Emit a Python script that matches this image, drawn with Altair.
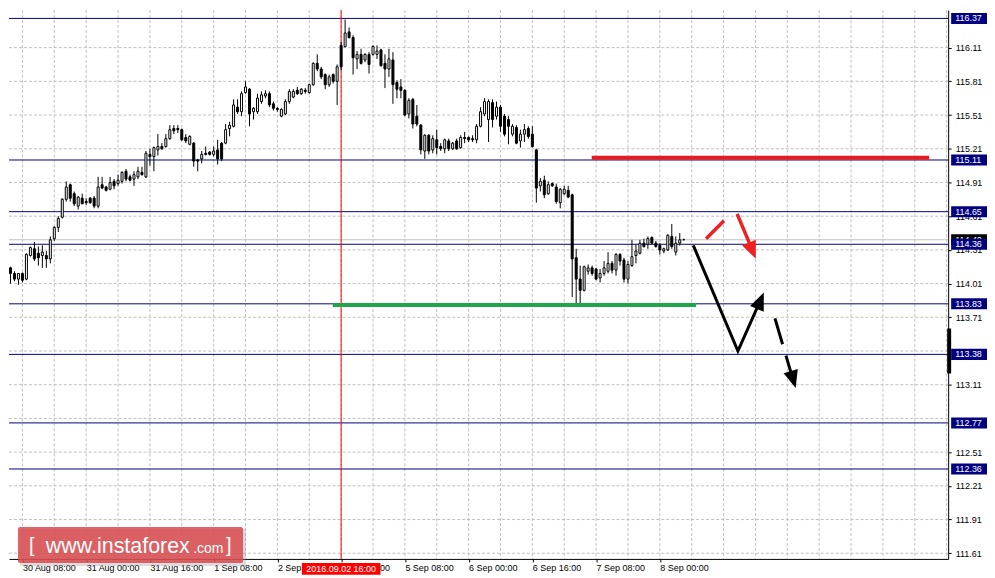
import json
import altair as alt
import pandas as pd

# ---------------- data (H1 candles, USD/JPY) ----------------
opens = [113.94, 113.99, 114.15, 114.10, 114.05, 114.10, 114.05, 114.26, 114.32, 114.28,
         114.26, 114.26, 114.23, 114.41, 114.51, 114.60, 114.76, 114.89, 114.81, 114.70,
         114.77, 114.74, 114.77, 114.77, 114.70, 114.89, 114.87, 114.85, 114.92, 114.90,
         114.92, 115.01, 114.96, 114.94, 114.96, 115.00, 114.96, 115.16, 115.14, 115.20,
         115.23, 115.23, 115.30, 115.39, 115.39, 115.38, 115.31, 115.25, 115.26, 115.11,
         115.12, 115.17, 115.18, 115.16, 115.20, 115.26, 115.26, 115.39, 115.41, 115.58,
         115.54, 115.71, 115.74, 115.54, 115.54, 115.63, 115.68, 115.70, 115.61, 115.57,
         115.50, 115.52, 115.63, 115.67, 115.73, 115.70, 115.73, 115.71, 115.78, 115.97,
         115.92, 115.87, 115.78, 115.87, 115.81, 116.13, 116.12, 116.25, 116.20, 116.01,
         116.05, 116.00, 116.05, 116.05, 116.05, 116.09, 115.97, 115.92, 116.00, 115.80,
         115.76, 115.73, 115.52, 115.65, 115.50, 115.42, 115.19, 115.33, 115.20, 115.29,
         115.23, 115.21, 115.28, 115.21, 115.28, 115.22, 115.31, 115.31, 115.30, 115.29,
         115.41, 115.52, 115.47, 115.62, 115.50, 115.58, 115.50, 115.47, 115.34, 115.40,
         115.28, 115.34, 115.39, 115.34, 115.20, 114.88, 114.93, 114.81, 114.90, 114.87,
         114.73, 114.81, 114.84, 114.80, 114.24, 114.05, 113.95, 114.12, 114.15, 114.14,
         114.06, 114.10, 114.12, 114.19, 114.13, 114.27, 114.22, 114.05, 114.17, 114.26,
         114.28, 114.37, 114.36, 114.42, 114.37, 114.35, 114.30, 114.31, 114.43, 114.29,
         114.37, 114.40]
highs = [114.02, 114.15, 114.16, 114.12, 114.10, 114.11, 114.28, 114.34, 114.38, 114.34,
         114.35, 114.30, 114.43, 114.52, 114.61, 114.77, 114.92, 114.90, 114.83, 114.79,
         114.81, 114.77, 114.78, 114.79, 114.96, 114.96, 114.88, 114.96, 114.94, 114.98,
         115.01, 115.03, 114.98, 115.01, 115.05, 115.05, 115.19, 115.21, 115.23, 115.34,
         115.26, 115.34, 115.42, 115.42, 115.42, 115.39, 115.34, 115.33, 115.27, 115.12,
         115.19, 115.23, 115.19, 115.23, 115.29, 115.27, 115.43, 115.45, 115.65, 115.65,
         115.72, 115.81, 115.75, 115.58, 115.70, 115.72, 115.73, 115.72, 115.63, 115.58,
         115.57, 115.65, 115.74, 115.74, 115.76, 115.75, 115.75, 115.79, 115.98, 116.05,
         115.94, 115.88, 115.87, 115.88, 115.96, 116.16, 116.36, 116.29, 116.22, 116.08,
         116.10, 116.06, 116.07, 116.13, 116.13, 116.10, 116.05, 116.10, 116.07, 115.82,
         115.83, 115.74, 115.66, 115.66, 115.60, 115.43, 115.34, 115.34, 115.33, 115.38,
         115.26, 115.30, 115.30, 115.27, 115.30, 115.33, 115.36, 115.32, 115.33, 115.43,
         115.58, 115.66, 115.65, 115.65, 115.63, 115.60, 115.52, 115.50, 115.43, 115.42,
         115.38, 115.43, 115.41, 115.41, 115.21, 114.95, 114.97, 114.92, 114.91, 114.90,
         114.86, 114.88, 114.88, 114.81, 114.32, 114.17, 114.17, 114.18, 114.17, 114.15,
         114.14, 114.21, 114.29, 114.21, 114.28, 114.28, 114.24, 114.21, 114.40, 114.36,
         114.40, 114.41, 114.43, 114.43, 114.39, 114.37, 114.33, 114.45, 114.54, 114.43,
         114.46, 114.41]
lows = [113.86, 113.98, 114.01, 114.03, 114.00, 114.02, 114.04, 114.25, 114.21, 114.17,
        114.15, 114.15, 114.19, 114.39, 114.47, 114.59, 114.74, 114.74, 114.70, 114.67,
        114.72, 114.71, 114.72, 114.68, 114.68, 114.85, 114.83, 114.84, 114.85, 114.88,
        114.90, 114.92, 114.92, 114.88, 114.94, 114.97, 114.95, 115.06, 115.01, 115.15,
        115.20, 115.22, 115.29, 115.34, 115.35, 115.28, 115.26, 115.24, 115.05, 115.01,
        115.08, 115.15, 115.15, 115.14, 115.07, 115.10, 115.25, 115.32, 115.40, 115.52,
        115.50, 115.70, 115.41, 115.47, 115.52, 115.61, 115.66, 115.58, 115.55, 115.54,
        115.49, 115.51, 115.61, 115.66, 115.69, 115.69, 115.70, 115.70, 115.77, 115.90,
        115.83, 115.74, 115.76, 115.79, 115.60, 115.91, 116.11, 116.19, 115.87, 115.92,
        115.96, 115.98, 115.88, 116.04, 116.01, 115.94, 115.75, 115.85, 115.61, 115.66,
        115.66, 115.50, 115.48, 115.39, 115.41, 115.16, 115.12, 115.16, 115.17, 115.16,
        115.19, 115.17, 115.19, 115.20, 115.20, 115.21, 115.26, 115.27, 115.27, 115.26,
        115.40, 115.50, 115.27, 115.40, 115.47, 115.36, 115.32, 115.25, 115.32, 115.25,
        115.22, 115.27, 115.30, 115.22, 114.73, 114.83, 114.77, 114.80, 114.87, 114.72,
        114.68, 114.80, 114.77, 113.89, 113.83, 113.83, 113.94, 114.09, 114.08, 114.04,
        114.02, 114.08, 114.10, 114.10, 114.08, 114.17, 114.02, 114.01, 114.16, 114.19,
        114.27, 114.33, 114.32, 114.36, 114.33, 114.27, 114.28, 114.30, 114.32, 114.26,
        114.35, 114.40]
closes = [114.00, 114.14, 114.10, 114.05, 114.10, 114.04, 114.27, 114.33, 114.23, 114.24,
          114.29, 114.23, 114.40, 114.51, 114.59, 114.76, 114.87, 114.77, 114.72, 114.78,
          114.72, 114.73, 114.73, 114.70, 114.87, 114.86, 114.84, 114.91, 114.88, 114.93,
          115.00, 114.94, 114.93, 114.98, 115.01, 114.98, 115.17, 115.14, 115.22, 115.23,
          115.21, 115.30, 115.38, 115.37, 115.38, 115.29, 115.28, 115.32, 115.10, 115.10,
          115.16, 115.16, 115.16, 115.19, 115.12, 115.12, 115.38, 115.42, 115.60, 115.54,
          115.70, 115.76, 115.52, 115.57, 115.66, 115.69, 115.70, 115.60, 115.57, 115.56,
          115.56, 115.63, 115.72, 115.72, 115.70, 115.74, 115.72, 115.78, 115.97, 115.92,
          115.85, 115.78, 115.85, 115.81, 115.94, 115.94, 116.24, 116.20, 116.02, 116.05,
          115.97, 116.05, 115.96, 116.12, 116.08, 115.95, 115.92, 116.01, 115.78, 115.74,
          115.73, 115.51, 115.64, 115.43, 115.43, 115.20, 115.33, 115.19, 115.30, 115.22,
          115.21, 115.29, 115.21, 115.26, 115.21, 115.31, 115.30, 115.29, 115.29, 115.41,
          115.54, 115.63, 115.63, 115.47, 115.58, 115.41, 115.34, 115.41, 115.41, 115.26,
          115.34, 115.38, 115.32, 115.23, 114.86, 114.92, 114.80, 114.89, 114.88, 114.74,
          114.85, 114.85, 114.78, 114.23, 114.05, 113.95, 114.16, 114.15, 114.10, 114.05,
          114.10, 114.15, 114.19, 114.13, 114.27, 114.21, 114.05, 114.18, 114.25, 114.30,
          114.37, 114.34, 114.41, 114.37, 114.34, 114.31, 114.32, 114.44, 114.34, 114.37,
          114.40, 114.40]

x_ticks = [5, 21, 37, 53, 69, 85, 101, 117, 133, 149, 165]
x_labels = ["30 Aug 08:00", "31 Aug 00:00", "31 Aug 16:00", "1 Sep 08:00", "2 Sep 00:00",
            "2 Sep 16:00", "5 Sep 08:00", "6 Sep 00:00", "6 Sep 16:00", "7 Sep 08:00",
            "8 Sep 00:00"]
x_grid = list(range(5, 238, 8))
y_ticks = [111.61, 111.91, 112.21, 112.51, 113.11, 113.71, 114.01, 114.31, 114.61,
           114.91, 115.21, 115.51, 115.81, 116.11]
y_grid = [111.61, 111.91, 112.21, 112.51, 112.81, 113.11, 113.41, 113.71, 114.01,
          114.31, 114.61, 114.91, 115.21, 115.51, 115.81, 116.11]
level_prices = [116.37, 115.11, 114.65, 114.36, 113.83, 113.38, 112.77, 112.36]
bid_price = 114.40
cross_index = 85
cross_label = "2016.09.02 16:00"
spread_bar = [113.61, 113.21]

# annotation drawings: (segment, index, price)
solid_segs = {
    "redlevel": ([147.9, 232.6], [115.13, 115.13], "#e8191f", 4),
    "greenlevel": ([82.9, 174.1], [113.82, 113.82], "#1fa64a", 4),
    "blackpath": ([173.4, 184.6, 190.1], [114.35, 113.41, 113.85], "#000000", 3),
    "reda": ([176.6, 181.1], [114.41, 114.57], "#ee2024", 3.5),
    "redb": ([184.4, 188.2], [114.63, 114.31], "#ee2024", 3.5),
}
dash_idx = [193.9, 198.4]
dash_price = [113.70, 113.16]
head_idx = [191.1, 189.1, 199.1]
head_price = [113.93, 114.23, 113.08]
head_angle = [23, 157, 163.5]
head_color = ["#000000", "#ee2024", "#000000"]

# ---------------- layout ----------------
W, H = 943, 551
XS = alt.Scale(domain=[1.625, 237.375], nice=False, zero=False)
YS = alt.Scale(domain=[111.5597, 116.4436], nice=False, zero=False)
FONT = "Liberation Sans"
FS = 9
HALF_BOX = 0.049

label_expr = f"{json.dumps(x_labels)}[indexof({json.dumps(x_ticks)}, datum.value)]"
AX_X = alt.Axis(
    values=x_ticks, labelExpr=label_expr, orient="bottom", title=None, grid=False,
    domainColor="black", tickColor="black", tickSize=3, labelAlign="left",
    labelBaseline="top", labelPadding=2, labelFont=FONT, labelFontSize=FS,
    labelColor="black", labelOverlap=False, labelFlush=False)
AX_Y = alt.Axis(
    orient="right", values=y_ticks, format=".2f", title=None, grid=False,
    domainColor="black", tickColor="black", tickSize=3, labelPadding=4,
    labelFont=FONT, labelFontSize=FS, labelColor="black", labelOverlap=False,
    labelFlush=False)

candles = pd.DataFrame({"o": opens, "h": highs, "l": lows, "c": closes})
candles["i"] = range(len(candles))
candles["top"] = candles[["o", "c"]].max(axis=1)
candles["bot"] = candles[["o", "c"]].min(axis=1)
candles["up"] = candles["c"] >= candles["o"]
candles["x1"] = candles["i"] - 0.25
candles["x2"] = candles["i"] + 0.25


def X(f):
    return alt.X(f, type="quantitative", scale=XS, axis=AX_X)


def Y(f):
    return alt.Y(f, type="quantitative", scale=YS, axis=AX_Y)


grid_v = alt.Chart(pd.DataFrame({"g": x_grid})).mark_rule(
    color="#c0c0c0", strokeDash=[3, 2], strokeWidth=1).encode(x=X("g"))
grid_h = alt.Chart(pd.DataFrame({"p": y_grid})).mark_rule(
    color="#c0c0c0", strokeDash=[3, 2], strokeWidth=1).encode(y=Y("p"))
bid_line = alt.Chart(pd.DataFrame({"p": [bid_price]})).mark_rule(
    color="#c0c0c0", strokeWidth=1).encode(y=Y("p"))
level_lines = alt.Chart(pd.DataFrame({"p": level_prices})).mark_rule(
    color="#000080", strokeWidth=1).encode(y=Y("p"))
cross_line = alt.Chart(pd.DataFrame({"i": [cross_index]})).mark_rule(
    color="#ff0000", strokeWidth=1).encode(x=X("i"))

wicks = alt.Chart(candles).mark_rule(color="black", strokeWidth=1, clip=True).encode(
    x=X("i"), y=Y("l"), y2="h:Q")
bodies = alt.Chart(candles).mark_rect(stroke="black", strokeWidth=1, clip=True).encode(
    x=X("x1"), x2="x2", y=Y("bot"), y2="top",
    fill=alt.condition("datum.up", alt.value("white"), alt.value("black")),
)

rows = []
for seg, (xs, ps, col, w) in solid_segs.items():
    for k, (xv, pv) in enumerate(zip(xs, ps)):
        rows.append({"seg": seg, "k": k, "i": xv, "p": pv, "col": col, "w": w})
solid = alt.Chart(pd.DataFrame(rows)).mark_line(clip=True, strokeCap="butt").encode(
    x=X("i"), y=Y("p"), detail="seg:N", order="k:Q",
    color=alt.Color("col:N", scale=None), strokeWidth=alt.StrokeWidth("w:Q", scale=None))
dashed = alt.Chart(pd.DataFrame({"i": dash_idx, "p": dash_price})).mark_line(
    clip=True, color="black", strokeWidth=3, strokeDash=[27, 12], strokeCap="butt").encode(
    x=X("i"), y=Y("p"))
heads = alt.Chart(pd.DataFrame({"i": head_idx, "p": head_price, "a": head_angle,
                                "col": head_color})).mark_point(
    shape="M0,0 L0.42,1 L-0.42,1 Z", filled=True, size=1250, opacity=1, strokeWidth=0,
    clip=True).encode(
    x=X("i"), y=Y("p"), angle=alt.Angle("a:Q", scale=None),
    color=alt.Color("col:N", scale=None))

one = pd.DataFrame({"a": [0]})
wm_shadow = alt.Chart(one).mark_rect(fill="#9a9a9a", opacity=0.35, cornerRadius=2).encode(
    x=alt.value(11), x2=alt.value(238), y=alt.value(521), y2=alt.value(558))
wm_box = alt.Chart(one).mark_rect(fill="#db4a4f", opacity=0.85, cornerRadius=2).encode(
    x=alt.value(9), x2=alt.value(235), y=alt.value(519), y2=alt.value(555))
wm_t1 = alt.Chart(one).mark_text(text="[", font="Liberation Sans", fontSize=20,
                                 color="white", align="left", baseline="alphabetic").encode(
    x=alt.value(20), y=alt.value(544))
wm_t2 = alt.Chart(one).mark_text(text="www.instaforex", font="Liberation Sans",
                                 fontSize=21.5, color="white", align="left",
                                 baseline="alphabetic").encode(
    x=alt.value(37), y=alt.value(545))
wm_t3 = alt.Chart(one).mark_text(text=".com", font="Liberation Sans", fontSize=14,
                                 color="white", align="left", baseline="alphabetic").encode(
    x=alt.value(185), y=alt.value(545))
wm_t4 = alt.Chart(one).mark_text(text="]", font="Liberation Sans", fontSize=20,
                                 color="white", align="left", baseline="alphabetic").encode(
    x=alt.value(218), y=alt.value(544))

spread = alt.Chart(pd.DataFrame({"a": [spread_bar[0]], "b": [spread_bar[1]]})).mark_rect(
    fill="black", clip=False).encode(
    x=alt.value(942), x2=alt.value(946), y=Y("a"), y2="b")

bid_df = pd.DataFrame({"p": [bid_price], "lo": [bid_price - HALF_BOX],
                       "hi": [bid_price + HALF_BOX], "t": [f"{bid_price:.2f}"]})
bid_box = alt.Chart(bid_df).mark_rect(fill="black", clip=False).encode(
    x=alt.value(946), x2=alt.value(982), y=Y("lo"), y2="hi")
bid_txt = alt.Chart(bid_df).mark_text(font=FONT, fontSize=FS, color="white", align="left",
                                      baseline="middle", clip=False).encode(
    x=alt.value(950), y=Y("p"), text="t:N")

lv_df = pd.DataFrame({"p": level_prices})
lv_df["lo"] = lv_df["p"] - HALF_BOX
lv_df["hi"] = lv_df["p"] + HALF_BOX
lv_df["t"] = [f"{v:.2f}" for v in level_prices]
lv_box = alt.Chart(lv_df).mark_rect(fill="#000080", clip=False).encode(
    x=alt.value(946), x2=alt.value(982), y=Y("lo"), y2="hi")
lv_txt = alt.Chart(lv_df).mark_text(font=FONT, fontSize=FS, color="white", align="left",
                                    baseline="middle", clip=False).encode(
    x=alt.value(950), y=Y("p"), text="t:N")

cr_df = pd.DataFrame({"i": [cross_index], "a": [cross_index - 9.875],
                      "b": [cross_index + 9.875], "t": [cross_label]})
cr_box = alt.Chart(cr_df).mark_rect(fill="#ff0000", clip=False).encode(
    x=X("a"), x2="b", y=alt.value(H + 4), y2=alt.value(H + 16))
cr_txt = alt.Chart(cr_df).mark_text(font=FONT, fontSize=FS, color="white", align="center",
                                    baseline="middle", clip=False).encode(
    x=X("i"), y=alt.value(H + 10.5), text="t:N")

chart = alt.layer(
    grid_v, grid_h, bid_line, level_lines, cross_line, wicks, bodies,
    solid, dashed, heads, wm_shadow, wm_box, wm_t1, wm_t2, wm_t3, wm_t4,
    spread, bid_box, bid_txt, lv_box, lv_txt, cr_box, cr_txt,
).properties(width=W, height=H, padding=0, background="white").configure_view(
    strokeWidth=0)

chart.save("out.html", embed_options={"renderer": "svg", "actions": False})
